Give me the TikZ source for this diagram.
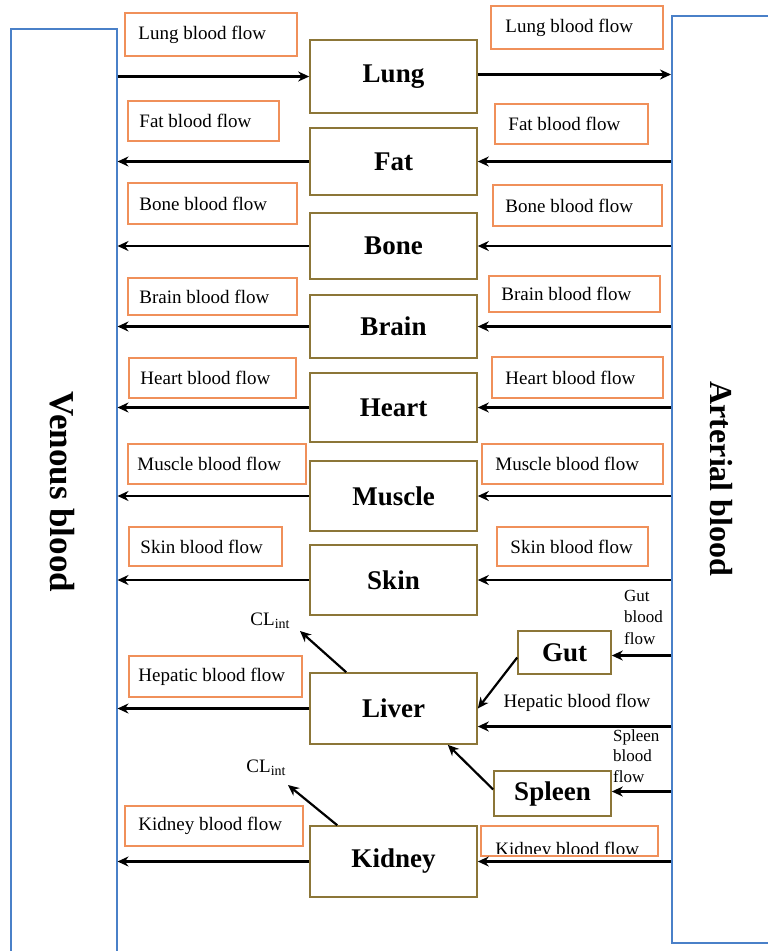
\documentclass[tikz,border=0pt]{standalone}
\usepackage{fontspec}
\setmainfont{Liberation Serif}
\usetikzlibrary{arrows.meta}
\definecolor{bluebox}{HTML}{4A80C8}
\definecolor{olivebox}{HTML}{8C7638}
\definecolor{orangebox}{HTML}{F0905A}
\tikzset{
  organ/.style={draw=olivebox, line width=1.6pt, fill=white, minimum width=167pt, font=\fontsize{27}{30}\selectfont\bfseries, inner sep=0pt},
  lblbox/.style={draw=orangebox, line width=1.5pt, inner sep=0pt},
  lbltext/.style={font=\fontsize{19}{21}\selectfont, inner sep=0pt, anchor=west},
  arr/.style={line width=2.2pt, -{Stealth[length=11pt,width=10pt]}},
  side/.style={draw=bluebox, line width=1.5pt},
  plain/.style={font=\fontsize{19}{21}\selectfont, inner sep=0pt}
}
\newcommand{\lbox}[7]{%
  \node[lblbox, minimum width=#4pt, minimum height=#5pt] (#1) at (#2,#3) {};
  \node[lbltext] (#1t) at ([xshift=#6pt]#1.west) {#7};
}
\begin{document}
\begin{tikzpicture}[x=1pt,y=-1pt]
\useasboundingbox (0,0) rectangle (768,951);
% side boxes
\node[side, minimum width=106pt, minimum height=940pt, anchor=north west, inner sep=0pt] (ven) at (10,28) {};
\node[side, minimum width=110pt, minimum height=927pt, anchor=north west, inner sep=0pt] (art) at (671,15) {};
\node[rotate=-90, font=\fontsize{35}{38}\selectfont\bfseries] (vent) at (62,492) {Venous blood};
\node[rotate=-90, font=\fontsize{32}{35}\selectfont\bfseries] (artt) at (721,479) {Arterial blood};
% organs
\node[organ, minimum height=73pt] (lung) at (393.5,76.5) {Lung};
\node[organ, minimum height=67pt] (fat) at (393.5,161.5) {Fat};
\node[organ, minimum height=66pt] (bone) at (393.5,246) {Bone};
\node[organ, minimum height=63pt] (brain) at (393.5,326.5) {Brain};
\node[organ, minimum height=69pt] (heart) at (393.5,407.5) {Heart};
\node[organ, minimum height=70pt] (muscle) at (393.5,496) {Muscle};
\node[organ, minimum height=70pt] (skin) at (393.5,580) {Skin};
\node[organ, minimum height=71pt] (liver) at (393.5,708.5) {Liver};
\node[organ, minimum height=71pt] (kidney) at (393.5,861.5) {Kidney};
\node[organ, minimum width=93pt, minimum height=43pt] (gut) at (564.5,652.5) {Gut};
\node[organ, minimum width=117pt, minimum height=45pt] (spleen) at (552.5,793.5) {Spleen};
% left labels
\lbox{lungL}{211}{34.5}{172}{43}{14}{Lung blood flow}
\lbox{fatL}{203.5}{121}{151}{40}{12}{Fat blood flow}
\lbox{boneL}{212.5}{203.5}{169}{41}{12}{Bone blood flow}
\lbox{brainL}{212.5}{296.5}{169}{37}{12}{Brain blood flow}
\lbox{heartL}{212.5}{378}{167}{40}{12}{Heart blood flow}
\lbox{muscleL}{217}{464}{178}{40}{10}{Muscle blood flow}
\lbox{skinL}{205.5}{546.5}{153}{39}{12}{Skin blood flow}
\lbox{hepL}{215.5}{676.5}{173}{41}{10}{Hepatic blood flow}
\lbox{kidL}{214}{826}{178}{40}{14}{Kidney blood flow}
% right labels
\lbox{lungR}{577}{27.5}{172}{43}{15}{Lung blood flow}
\lbox{fatR}{571.5}{124}{153}{40}{14}{Fat blood flow}
\lbox{boneR}{577.5}{205.5}{169}{41}{13}{Bone blood flow}
\lbox{brainR}{574.5}{294}{171}{36}{13}{Brain blood flow}
\lbox{heartR}{577.5}{377.5}{171}{41}{14}{Heart blood flow}
\lbox{muscleR}{572.5}{464}{181}{40}{14}{Muscle blood flow}
\lbox{skinR}{572.5}{546.5}{151}{39}{14}{Skin blood flow}
\node[lblbox, minimum width=177pt, minimum height=30pt] (kidR) at (569.5,841) {};
\begin{scope}
\clip (481,826) rectangle (658,853);
\node[lbltext] (kidRt) at ([xshift=15pt,yshift=-10pt]kidR.west) {Kidney blood flow};
\end{scope}
% plain texts
\node[plain] (hept) at (577,703) {Hepatic blood flow};
\node[font=\fontsize{17}{21.5}\selectfont, align=left, anchor=north west, inner sep=0pt] (gutt) at (624,590) {Gut\\blood\\flow};
\node[font=\fontsize{17}{20.5}\selectfont, align=left, anchor=north west, inner sep=0pt] (splt) at (613,729) {Spleen\\blood\\flow};
\node[font=\fontsize{19}{20}\selectfont, inner sep=0pt] (cl1) at (270,621) {CL\raisebox{-3pt}{\fontsize{14}{14}\selectfont int}};
\node[font=\fontsize{19}{20}\selectfont, inner sep=0pt] (cl2) at (266,768) {CL\raisebox{-3pt}{\fontsize{14}{14}\selectfont int}};
\coordinate (cl1a) at (300,631);
\coordinate (cl2a) at (288,785);
% arrows
\draw[arr] (lung.west -| ven.east) -- (lung.west);
\draw[arr] ([yshift=2pt]lung.east) -- ([yshift=2pt]lung.east -| art.west);
\foreach \o in {fat,bone,brain,heart,muscle,skin,kidney}{
  \draw[arr] (\o.east -| art.west) -- (\o.east);
  \draw[arr] (\o.west) -- (\o.west -| ven.east);
}
\draw[arr] (liver.west) -- (liver.west -| ven.east);
\draw[arr] ([yshift=-18pt]liver.east -| art.west) -- ([yshift=-18pt]liver.east);
\draw[arr] ([yshift=-3pt]gut.east -| art.west) -- ([yshift=-3pt]gut.east);
\draw[arr] ([yshift=2pt]spleen.east -| art.west) -- ([yshift=2pt]spleen.east);
\draw[arr] ([yshift=-5pt]gut.west) -- (liver.east);
\draw[arr] ([yshift=4pt]spleen.west) -- ([xshift=-30pt]liver.south east);
\draw[arr] ([xshift=37pt]liver.north west) -- (cl1a);
\draw[arr] ([xshift=28pt]kidney.north west) -- (cl2a);
\end{tikzpicture}
\end{document}
